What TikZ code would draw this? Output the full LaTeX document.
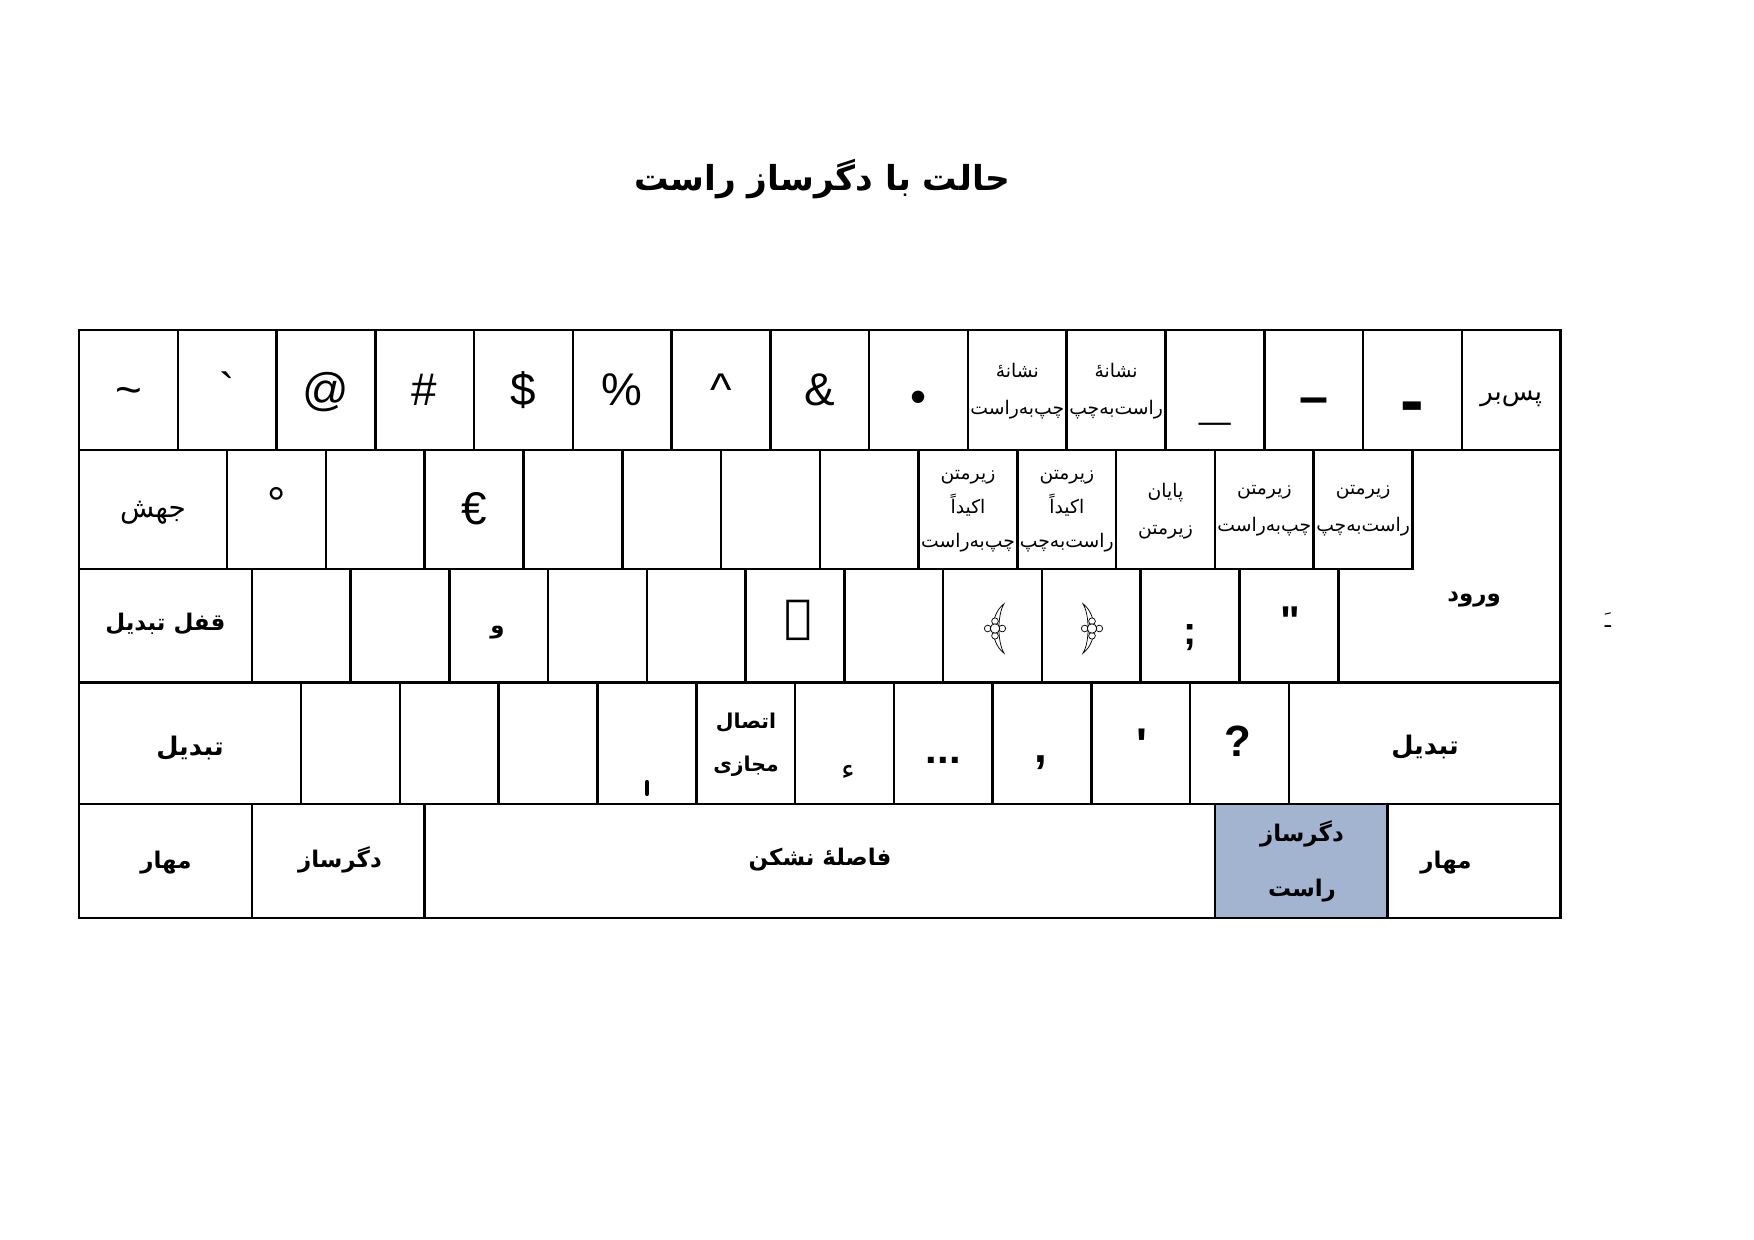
\documentclass[tikz,border=0pt]{standalone}
\usepackage{fontspec}
\setmainfont{Liberation Sans}[Ligatures=TeXOff]
\newfontfamily\fa[Script=Arabic]{DejaVu Sans}
\TeXXeTstate=1
\newcommand{\ar}[1]{\beginR#1\endR}
\definecolor{altgrblue}{RGB}{162,180,207}
\tikzset{
  lbl/.style={inner sep=0pt, outer sep=0pt},
  fa/.style={lbl, font=\fa\fontsize{#1}{16}\selectfont},
  fa/.default=13,
  fab/.style={lbl, font=\fa\bfseries\fontsize{#1}{14}\selectfont},
  fab/.default=11,
  fasm/.style={lbl, align=center, font=\fa\fontsize{9}{#1}\selectfont},
  fasm/.default=17,
  fabml/.style 2 args={lbl, align=center, font=\fa\bfseries\fontsize{#1}{#2}\selectfont},
  sym/.style={lbl, font=\fontsize{22}{26}\selectfont},
  symb/.style={lbl, font=\bfseries\fontsize{#1}{#1}\selectfont},
  gridline/.style={line width=1.2pt, line cap=rect},
  ornline/.style={fill=white, draw=black, line width=0.35pt},
  ornate/.pic={
    \filldraw[ornline] (8,-22) .. controls (-5,-12) and (-5,12) .. (8,22)
       .. controls (2,12) and (2,-12) .. (8,-22) -- cycle;
    \foreach \a in {0,90,180,270} \filldraw[ornline] (\a:6.5) circle (3);
    \filldraw[ornline] (0,0) circle (4.2);
  }
}
\begin{document}
\begin{tikzpicture}[x=0.48pt,y=-0.48pt]
\useasboundingbox (0,0) rectangle (1754,1240);
\fill[white] (0,0) rectangle (1754,1240);
% title
\node[lbl, font=\fa\bfseries\fontsize{16.5}{20}\selectfont] (title) at (822,179) {\ar{حالت با دگرساز راست}};
% highlighted right alt key
\fill[altgrblue] (1214.8,804) rectangle (1387.7,918);
% grid
\draw[gridline] (79,330) rectangle (1560.5,918);
\draw[gridline] (79,450) -- (1560.5,450);
\draw[gridline] (79,569) -- (1412.5,569);
\draw[gridline] (79,682.5) -- (1560.5,682.5);
\draw[gridline] (79,804) -- (1560.5,804);
\foreach \i in {1,...,14} \draw[gridline] ({79+\i*98.77},330) -- ({79+\i*98.77},450);
\foreach \i in {0,...,12} \draw[gridline] ({227.2+\i*98.77},450) -- ({227.2+\i*98.77},569);
\foreach \i in {0,...,11} \draw[gridline] ({251.8+\i*98.77},569) -- ({251.8+\i*98.77},682.5);
\foreach \i in {0,...,10} \draw[gridline] ({301.2+\i*98.77},682.5) -- ({301.2+\i*98.77},804);
\foreach \x in {251.8,424.6,1214.8,1387.7} \draw[gridline] (\x,804) -- (\x,918);
% row 1
\node[sym, anchor=base] (k1) at (128.4,405) {\char"007E};
\node[sym, anchor=base] (k2) at (227.2,405) {\char"0060};
\node[sym, anchor=base] (k3) at (325.9,405) {@};
\node[sym, anchor=base] (k4) at (424.7,405) {\#};
\node[sym, anchor=base] (k5) at (523.5,405) {\$};
\node[sym, anchor=base] (k6) at (622.3,405) {\%};
\node[sym, anchor=base] (k7) at (721.0,405) {\char"005E};
\node[sym, anchor=base] (k8) at (819.8,405) {\&};
\node[sym] (k9) at (918.6,402) {•};
\node[fasm=17.8] (k10) at (1017.3,391) {\ar{نشانه^^^^0654}\\\ar{چپ^^^^200cبه^^^^200cراست}};
\node[fasm=17.8] (k11) at (1116.1,391) {\ar{نشانه^^^^0654}\\\ar{راست^^^^200cبه^^^^200cچپ}};
\node[symb=27] (k12) at (1214.9,422) {\_};
\node[symb=25] (k13) at (1313.6,406) {–};
\node[symb=34] (k14) at (1412.4,413) {-};
\node[fa=12.4] (bksp) at (1511.2,399) {\ar{پس^^^^200cبر}};
% row 2
\node[fa=13.4] (tab) at (153,513) {\ar{جهش}};
\node[sym] (q) at (276.6,503) {°};
\node[sym] (e) at (474.1,508.5) {€};
\node[fasm=16.3] (lro) at (968,511.5) {\ar{زیرمتن}\\\ar{اکیداً}\\\ar{چپ^^^^200cبه^^^^200cراست}};
\node[fasm=16.3] (rlo) at (1066.8,511.5) {\ar{زیرمتن}\\\ar{اکیداً}\\\ar{راست^^^^200cبه^^^^200cچپ}};
\node[fasm=17.8] (pdf) at (1165.5,511) {\ar{پایان}\\\ar{زیرمتن}};
\node[fasm=17.8] (lre) at (1264.3,511) {\ar{زیرمتن}\\\ar{چپ^^^^200cبه^^^^200cراست}};
\node[fasm=17.8] (rle) at (1363.1,511) {\ar{زیرمتن}\\\ar{راست^^^^200cبه^^^^200cچپ}};
% row 3
\node[fab] (caps) at (165.4,624) {\ar{قفل تبدیل}};
\node[lbl, font=\fa\bfseries\fontsize{11}{13}\selectfont] (d) at (497.5,633) {\ar{و}};
\node[lbl, font=\fa\bfseries\fontsize{22}{26}\selectfont] (h) at (798,620) {\ar{ٱ}};
\pic[scale=1.12] (kk) at (995,628.5) {ornate};
\pic[xscale=-1.12, yscale=1.12] (l) at (1092,628.5) {ornate};
\node[symb=19] (semi) at (1190,638) {;};
\node[symb=20] (quote) at (1290,621) {"};
\node[fab] (enter) at (1474,600) {\ar{ورود}};
\node[lbl, font=\fa\fontsize{10}{12}\selectfont] (stray) at (1608,620) {\ar{ـَ}};
% row 4
\node[fab=12.3] (lshift) at (190,748) {\ar{تبدیل}};
\draw[line width=2pt, line cap=round] (647,782) -- (647,794);
\node[fabml={9.8}{20.6}] (zwj) at (746,745) {\ar{اتصال}\\\ar{مجازی}};
\node[lbl, font=\fa\fontsize{14}{16}\selectfont] (n) at (848,772) {\ar{ء}};
\node[symb=20] (m) at (943.2,760) {...};
\node[symb=22] (comma) at (1041,763) {,};
\node[symb=22] (apos) at (1142,745) {'};
\node[symb=21] (quest) at (1238,741) {?};
\node[fab=12.3] (rshift) at (1425,747) {\ar{تبدیل}};
% row 5
\node[fab] (lctrl) at (166,863) {\ar{مهار}};
\node[fab] (lalt) at (340,860) {\ar{دگرساز}};
\node[fab] (space) at (820,860) {\ar{فاصله^^^^0654 نشکن}};
\node[fabml={11}{26.4}] (ralt) at (1302,861) {\ar{دگرساز}\\\ar{راست}};
\node[fab] (rctrl) at (1446,863) {\ar{مهار}};
\end{tikzpicture}
\end{document}
